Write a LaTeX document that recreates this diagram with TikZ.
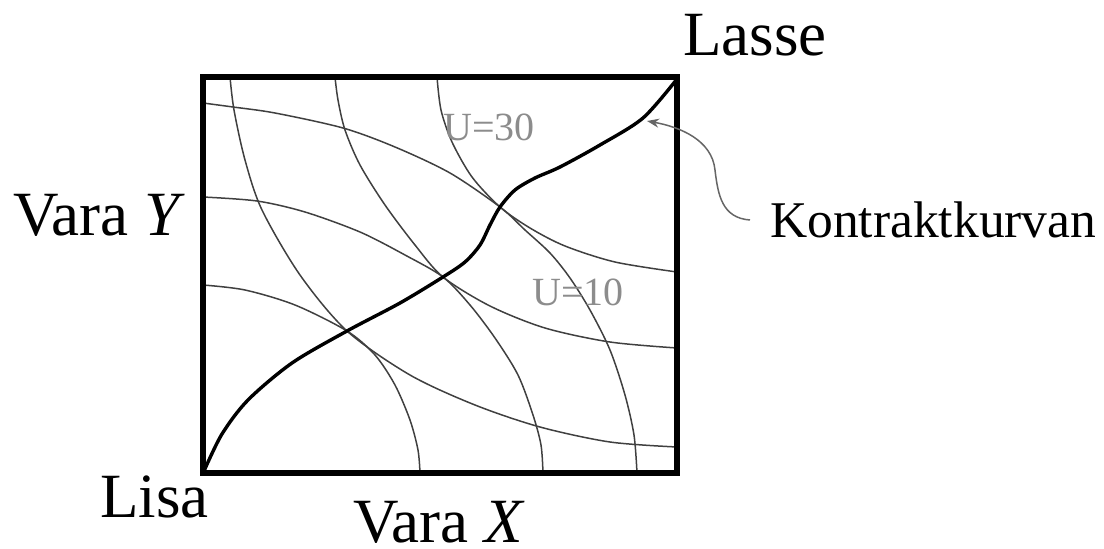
\documentclass[tikz,border=0pt]{standalone}
\usepackage{fontspec}
\setmainfont{Liberation Serif}
\usetikzlibrary{arrows.meta}
\begin{document}
\begin{tikzpicture}[x=1pt,y=-1pt,
  indiff/.style={draw=black!75, line width=1.5pt},
  contract/.style={draw=black, line width=3.4pt},
  boxframe/.style={draw=black, line width=6pt},
  leader/.style={draw=black!60, line width=1.5pt},
  biglabel/.style={inner sep=0pt, anchor=base west, font=\fontsize{63}{63}\selectfont},
  ulabel/.style={inner sep=0pt, anchor=base west, text=black!45, font=\fontsize{40}{40}\selectfont}]
\useasboundingbox (0,0) rectangle (1104,549);
% corners and tangency points
\coordinate (O1) at (203,473);
\coordinate (O2) at (677,77);
\coordinate (tip) at (647,121);
\coordinate (ls) at (750,220);
% Lisa's indifference curves
\draw[indiff] plot[smooth] coordinates {(230,77) (234,110) (245,160) (262,210) (300,275) (347,331) (410,375) (475,405) (540,427) (610,442) (677,447)};
\draw[indiff] plot[smooth] coordinates {(335,77) (338,100) (345,130) (360,165) (385,205) (415,245) (443,277) (490,306) (545,328) (610,342) (677,348)};
\draw[indiff] plot[smooth] coordinates {(437,77) (441,110) (452,142) (472,177) (500,207) (530,228) (565,246) (615,262) (677,272)};
% Lasse's indifference curves
\draw[indiff] plot[smooth] coordinates {(203,103) (233,107) (275,113) (343,128) (395,147) (450,173) (500,207) (525,230) (550,253) (570,278) (590,310) (610,350) (625,395) (634,435) (637,473)};
\draw[indiff] plot[smooth] coordinates {(203,197) (257,201) (305,212) (360,232) (405,255) (443,277) (470,305) (495,338) (518,375) (533,415) (541,445) (543,473)};
\draw[indiff] plot[smooth] coordinates {(203,285) (245,290) (295,305) (347,331) (375,355) (395,385) (410,420) (418,450) (420,473)};
% contract curve
\draw[contract] plot[smooth] coordinates {(204,471) (222,434) (248,400) (292,363) (347,331) (400,303) (443,277) (465,262) (480,245) (490,225) (500,207) (515,190) (535,178) (560,167) (600,145) (643,118) (677,79)};
% box
\draw[boxframe] (O1) rectangle (O2);
% labels
\node[ulabel] (u30) at (443,140) {U=30};
\node[ulabel] (u10) at (532,305) {U=10};
\node[biglabel] (lasse) at (683,55) {Lasse};
\node[biglabel] (varay) at (13,235) {Vara \textit{Y}};
\node[biglabel] (lisa) at (100,517) {Lisa};
\node[biglabel] (varax) at (353,542) {Vara \textit{X}};
\node[inner sep=0pt, anchor=base west, font=\fontsize{51.5}{51.5}\selectfont] (kk) at (770,237) {Kontraktkurvan};
% leader arrow
\draw[leader, -{Stealth[length=12pt,width=9pt]}] (ls) .. controls (722,218) and (718,195) .. (715,170) .. controls (712,140) and (680,127) .. (tip);
\end{tikzpicture}
\end{document}
